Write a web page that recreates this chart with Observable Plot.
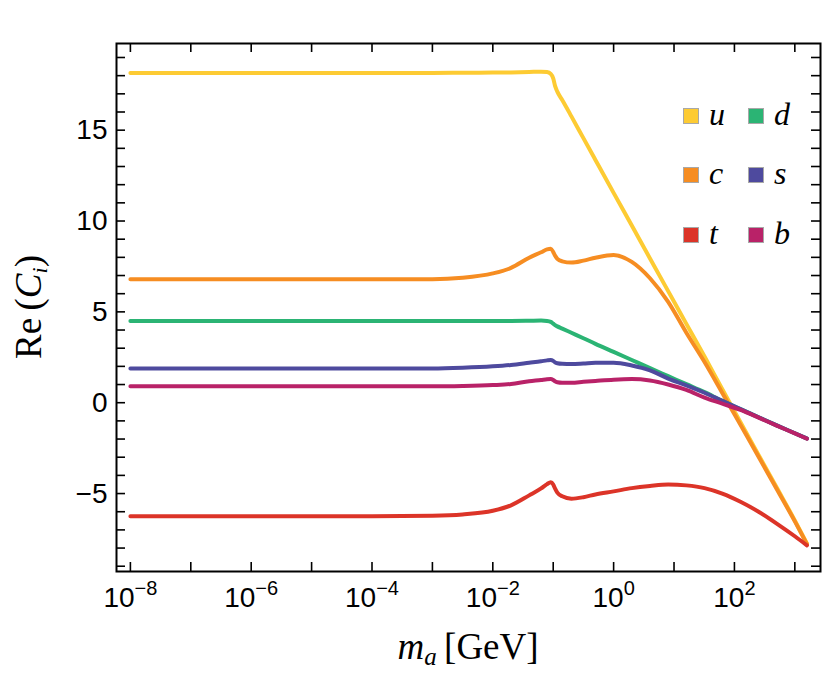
<!DOCTYPE html>
<html><head><meta charset="utf-8">
<script src="https://cdn.jsdelivr.net/npm/d3@7"></script>
<script src="https://cdn.jsdelivr.net/npm/@observablehq/plot@0.6"></script>
<style>
body{margin:0;background:#fff;}
#wrap{position:relative;width:830px;height:693px;overflow:hidden;}
.serif{position:absolute;font-family:"Liberation Serif","DejaVu Serif",serif;color:#000;white-space:nowrap;line-height:1;}
.sw{position:absolute;width:16px;height:16px;box-sizing:border-box;border:1px solid #a8a8a8;}
.lt{position:absolute;font-family:"Liberation Serif","DejaVu Serif",serif;font-style:italic;font-size:32px;line-height:1;}
</style></head><body>
<div id="wrap"></div>
<script>
// axion mass m_a [GeV]
const mass = [1e-8, 1e-6, 1e-4, 1e-3, 3.16e-3, 1e-2, 0.02, 0.04, 0.063, 0.079, 0.091, 0.1, 0.107, 0.117, 0.141, 0.2, 0.316, 0.5, 1, 2, 4, 8, 16, 32, 63, 126, 251, 501, 1000, 1585];
const cU = [18.15,18.15,18.15,18.15,18.16,18.17,18.18,18.2,18.22,18.2,18.1,17.85,17.45,17.12,16.66,15.76,14.56,13.36,11.55,9.75,7.94,6.14,4.34,2.54,0.74,-1.07,-2.87,-4.67,-6.48,-7.75];
const cC = [6.8,6.8,6.8,6.8,6.88,7.12,7.42,7.98,8.28,8.44,8.48,8.3,8.1,7.92,7.78,7.71,7.82,7.98,8.13,7.75,6.85,5.55,3.85,2.24,0.54,-1.22,-2.97,-4.75,-6.53,-7.78];
const cT = [-6.25,-6.25,-6.25,-6.22,-6.15,-5.95,-5.65,-5.1,-4.72,-4.48,-4.38,-4.5,-4.72,-4.95,-5.15,-5.28,-5.2,-5.05,-4.88,-4.7,-4.58,-4.5,-4.55,-4.7,-5.0,-5.45,-6.0,-6.65,-7.35,-7.85];
const cD = [4.5,4.5,4.5,4.5,4.5,4.5,4.5,4.51,4.52,4.5,4.45,4.35,4.27,4.2,4.08,3.85,3.55,3.24,2.8,2.35,1.9,1.46,1.02,0.58,0.1,-0.35,-0.8,-1.25,-1.68,-1.97];
const cS = [1.88,1.88,1.88,1.88,1.92,2.0,2.08,2.2,2.28,2.33,2.35,2.3,2.22,2.17,2.14,2.13,2.16,2.2,2.2,2.05,1.78,1.33,0.96,0.55,0.1,-0.35,-0.8,-1.25,-1.68,-1.97];
const cB = [0.9,0.9,0.9,0.9,0.92,0.97,1.03,1.18,1.25,1.29,1.3,1.25,1.18,1.13,1.1,1.1,1.15,1.2,1.27,1.3,1.22,1.0,0.7,0.28,-0.05,-0.4,-0.82,-1.26,-1.69,-1.98];

const keys = ["u", "c", "t", "d", "s", "b"];
const colors = ["#fdcb33", "#f68d22", "#dc3428", "#2bb474", "#4e4a9e", "#b92268"];
const seriesVals = [cU, cC, cT, cD, cS, cB];

const xTicks = [1e-8, 1e-7, 1e-6, 1e-5, 1e-4, 1e-3, 1e-2, 1e-1, 1, 10, 100, 1000];
const xLabelTicks = [1e-8, 1e-6, 1e-4, 1e-2, 1, 100];
const yTicks = [-9, -8, -7, -6, -5, -4, -3, -2, -1, 0, 1, 2, 3, 4, 5, 6, 7, 8, 9, 10, 11, 12, 13, 14, 15, 16, 17, 18, 19];
const yLabelTicks = [-5, 0, 5, 10, 15];

const rows = keys.flatMap((k, j) => seriesVals[j].map((v, i) => ({k, x: mass[i], y: v})));

const W = 830, H = 693, mL = 116, mR = 10, mT = 43, mB = 122;
const innerW = W - mL - mR, innerH = H - mT - mB;
const tk = 9;

const chart = Plot.plot({
  width: W, height: H,
  marginLeft: mL, marginRight: mR, marginTop: mT, marginBottom: mB,
  style: {fontFamily: "'Liberation Sans', Arial, sans-serif", background: "#fff"},
  x: {type: "log", domain: [Math.pow(10, -8.23), Math.pow(10, 3.425)]},
  y: {domain: [-9.29, 19.77]},
  color: {domain: keys, range: colors},
  marks: [
    Plot.line(rows, {x: "x", y: "y", z: "k", stroke: "k", strokeWidth: 4, curve: "monotone-x"}),
    Plot.tickX(xTicks, {x: d => d, insetTop: innerH - tk, stroke: "#000", strokeWidth: 1.6}),
    Plot.tickX(xTicks, {x: d => d, insetBottom: innerH - tk, stroke: "#000", strokeWidth: 1.6}),
    Plot.tickY(yTicks, {y: d => d, insetRight: innerW - tk, stroke: "#000", strokeWidth: 1.6}),
    Plot.tickY(yTicks, {y: d => d, insetLeft: innerW - tk, stroke: "#000", strokeWidth: 1.6}),
    Plot.axisX({ticks: xLabelTicks, tickSize: 0, tickPadding: 16, fontSize: 28, label: null,
      tickFormat: d => String(Math.round(Math.log10(d)))}),
    Plot.axisY({ticks: yLabelTicks, tickSize: 0, tickPadding: 9, fontSize: 28, label: null}),
    Plot.frame({stroke: "#000", strokeWidth: 2})
  ]
});

// superscript exponents for x tick labels
chart.querySelectorAll('g[aria-label="x-axis tick label"] text').forEach(t => {
  const e = t.textContent.trim();
  const exp = e.replace("-", "\u2212");
  t.textContent = "";
  const a = document.createElementNS("http://www.w3.org/2000/svg", "tspan");
  a.textContent = "10";
  const b = document.createElementNS("http://www.w3.org/2000/svg", "tspan");
  b.textContent = exp;
  b.setAttribute("dy", "-12");
  b.setAttribute("font-size", "20");
  t.appendChild(a); t.appendChild(b);
});

const wrap = document.getElementById("wrap");
wrap.appendChild(chart);

// axis titles
const xl = document.createElement("div");
xl.className = "serif";
xl.style.cssText = "left:468px;top:628px;font-size:37px;transform:translateX(-50%);";
xl.innerHTML = '<i>m</i><sub style="font-size:25px;vertical-align:-6px;"><i>a</i></sub>&thinsp;[GeV]';
wrap.appendChild(xl);

const yl = document.createElement("div");
yl.className = "serif";
yl.style.cssText = "left:30px;top:307px;font-size:37px;transform:translate(-50%,-50%) rotate(-90deg);";
yl.innerHTML = 'Re&thinsp;(<i>C</i><sub style="font-size:22px;vertical-align:-6px;"><i>i</i></sub>)';
wrap.appendChild(yl);

// legend (column-wise: u c t | d s b)
const legCols = [683, 748];
const legRows = [108, 167, 227];
keys.forEach((k, j) => {
  const col = Math.floor(j / 3), row = j % 3;
  const sw = document.createElement("div");
  sw.className = "sw";
  sw.style.left = legCols[col] + "px";
  sw.style.top = legRows[row] + "px";
  sw.style.background = colors[j];
  wrap.appendChild(sw);
  const lt = document.createElement("div");
  lt.className = "lt";
  lt.style.left = (legCols[col] + 26) + "px";
  lt.style.top = (legRows[row] - 10) + "px";
  lt.textContent = k;
  wrap.appendChild(lt);
});
</script>
</body></html>
